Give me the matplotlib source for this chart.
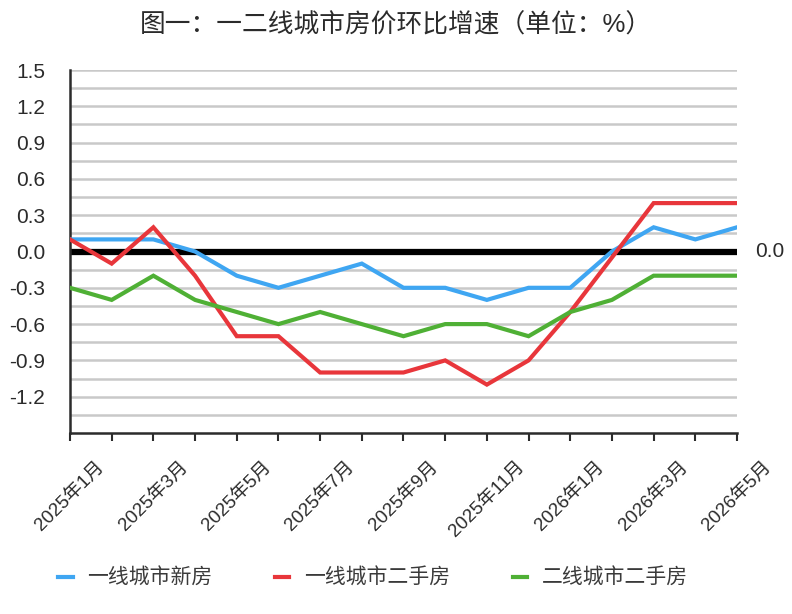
#!/usr/bin/env python3

import matplotlib
matplotlib.use('Agg')
import matplotlib.pyplot as plt
from matplotlib.lines import Line2D
import numpy as np

plt.rcParams['font.family'] = ['Liberation Sans', 'Noto Sans CJK SC']

# months Jan 2025 .. May 2026
months = ['2025年1月', '2025年2月', '2025年3月', '2025年4月', '2025年5月', '2025年6月',
          '2025年7月', '2025年8月', '2025年9月', '2025年10月', '2025年11月', '2025年12月',
          '2026年1月', '2026年2月', '2026年3月', '2026年4月', '2026年5月']

tier1_new = [0.1, 0.1, 0.1, 0.0, -0.2, -0.3, -0.2, -0.1, -0.3, -0.3, -0.4, -0.3,
             -0.3, 0.0, 0.2, 0.1, 0.2]
tier1_resale = [0.1, -0.1, 0.2, -0.2, -0.7, -0.7, -1.0, -1.0, -1.0, -0.9, -1.1, -0.9,
                -0.5, -0.05, 0.4, 0.4, 0.4]
tier2_resale = [-0.3, -0.4, -0.2, -0.4, -0.5, -0.6, -0.5, -0.6, -0.7, -0.6, -0.6, -0.7,
                -0.5, -0.4, -0.2, -0.2, -0.2]

series_names = ['一线城市新房', '一线城市二手房', '二线城市二手房']
colors = ['#3fa6f2', '#e8363b', '#4fb035']

y_labels = ['1.5', '1.2', '0.9', '0.6', '0.3', '0.0', '-0.3', '-0.6', '-0.9', '-1.2']

text_color = '#2b2b2b'

fig = plt.figure(figsize=(7.92, 6.14), dpi=100)
ax = fig.add_axes([70 / 792, 1 - 433 / 614, 667 / 792, 363 / 614])

x = np.arange(len(months))

# gridlines every 0.15
for g in np.arange(-1.35, 1.51, 0.15):
    ax.axhline(g, color='#c9c9c9', lw=1.8, zorder=1)

ax.axhline(0, color='black', lw=4.5, zorder=2)

for vals, c in zip([tier1_new, tier1_resale, tier2_resale], colors):
    ax.plot(x, vals, color=c, lw=3, zorder=3, solid_joinstyle='miter')

ax.set_xlim(0, len(months) - 1)
ax.set_ylim(-1.5, 1.5)

ax.set_yticks([float(v) for v in y_labels])
ax.set_yticklabels(y_labels, fontsize=15, color=text_color)
ax.tick_params(axis='y', length=0, pad=18)

ax.set_xticks(x)
ax.set_xticklabels([m if i % 2 == 0 else '' for i, m in enumerate(months)],
                   rotation=45, ha='center', fontsize=13.5, color=text_color)
ax.tick_params(axis='x', direction='out', length=6, width=1.5, color=text_color, pad=12)

for s in ['top', 'right']:
    ax.spines[s].set_visible(False)
for s in ['left', 'bottom']:
    ax.spines[s].set_color(text_color)
    ax.spines[s].set_linewidth(1.8)

ax.text(1.027, 0.5, '0.0', transform=ax.transAxes, fontsize=15, color=text_color,
        ha='left', va='center')

fig.text(0.5, 1 - 25 / 614, '图一：一二线城市房价环比增速（单位：%）', fontsize=18.5,
         color=text_color, ha='center', va='center')

handles = [Line2D([], [], color=c, lw=3) for c in colors]
fig.legend(handles, series_names, loc='center', bbox_to_anchor=(373 / 792, 1 - 578 / 614),
           ncol=3, frameon=False, fontsize=15, handlelength=0.7, handletextpad=0.7,
           columnspacing=3.0, labelcolor='#3a3a3a')

fig.savefig('out.png', dpi=100)
